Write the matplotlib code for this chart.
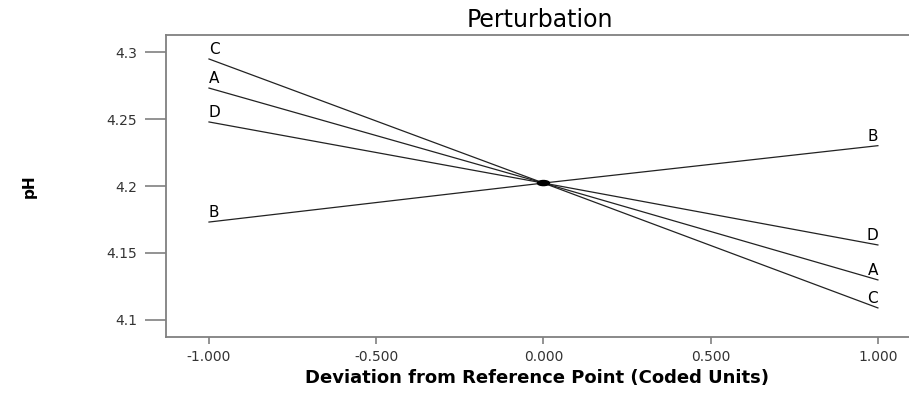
import matplotlib
matplotlib.use("Agg")
import matplotlib.pyplot as plt
from matplotlib.patches import Ellipse

plt.rcParams['font.family'] = ['DejaVu Sans']

# coded deviation and pH response of each factor
dev = [-1.0, 0.0, 1.0]
factors = ['C', 'A', 'D', 'B']
ph_C = [4.2948, 4.2022, 4.1090]
ph_A = [4.2731, 4.2022, 4.1299]
ph_D = [4.2478, 4.2022, 4.1560]
ph_B = [4.1731, 4.2022, 4.2301]
curves = [ph_C, ph_A, ph_D, ph_B]

yticks = [4.1, 4.15, 4.2, 4.25, 4.3]
yticklabels = ['4.1', '4.15', '4.2', '4.25', '4.3']
xticks = [-1.0, -0.5, 0.0, 0.5, 1.0]
xticklabels = ['-1.000', '-0.500', '0.000', '0.500', '1.000']

fig = plt.figure(figsize=(9.09, 4.01), dpi=100)
ax = fig.add_axes([0.1826, 0.1596, 0.8174, 0.7531])

for name, ph in zip(factors, curves):
    ax.plot(dev, ph, color='#222222', lw=0.9)
    # label at both ends, sitting just above the line
    ax.annotate(name, (dev[0], ph[0]), xytext=(0, 1.5), textcoords='offset points',
                ha='left', va='bottom', fontsize=11)
    ax.annotate(name, (dev[-1], ph[-1]), xytext=(0, 1.5), textcoords='offset points',
                ha='right', va='bottom', fontsize=11)

# reference point (squashed dot where all lines cross)
ax.add_patch(Ellipse((dev[1], ph_C[1]), 0.036, 0.0038, color='black', zorder=3))

ax.set_xlim(-1.1286, 1.093)
ax.set_ylim(4.0873, 4.3127)
ax.set_xticks(xticks)
ax.set_xticklabels(xticklabels)
ax.set_yticks(yticks)
ax.set_yticklabels(yticklabels)

for s in ['left', 'top', 'bottom']:
    ax.spines[s].set_color('#808080')
    ax.spines[s].set_linewidth(1.3)
ax.spines['right'].set_visible(False)

ax.tick_params(axis='y', length=15, width=1.2, color='#808080', labelsize=10,
               labelcolor='#333333', pad=6)
ax.tick_params(axis='x', length=5, width=1.2, color='#808080', labelsize=10,
               labelcolor='#333333', pad=4)

ax.set_title('Perturbation', fontsize=17, pad=6, x=0.503)
ax.set_xlabel('Deviation from Reference Point (Coded Units)', fontsize=13,
              fontweight='bold', labelpad=4)
ax.set_ylabel('pH', fontsize=11, fontweight='bold', labelpad=50)

fig.savefig('out.png', dpi=100)
